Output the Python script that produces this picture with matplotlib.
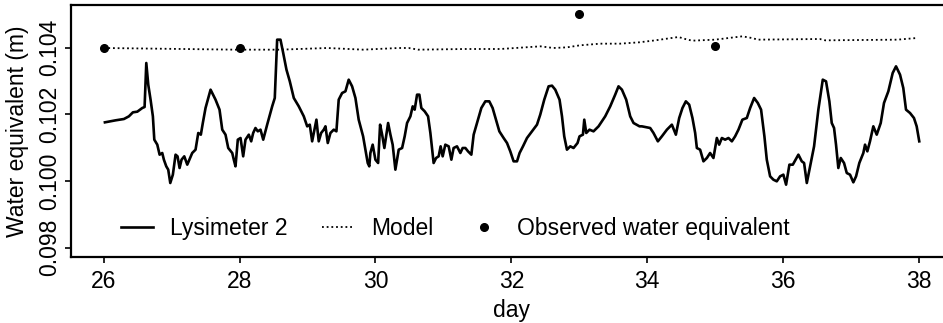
import numpy as np
import matplotlib
matplotlib.use('Agg')
import matplotlib.pyplot as plt

plt.rcParams['font.family'] = ['Liberation Sans', 'DejaVu Sans']

# Lysimeter 2 record (day, water equivalent in m)
lys_day = [26.019, 26.176, 26.299, 26.372, 26.431, 26.496, 26.569, 26.603, 26.628, 26.657,
           26.691, 26.725, 26.746, 26.790, 26.824, 26.863, 26.887, 26.922, 26.951, 26.981,
           27.019, 27.059, 27.088, 27.118, 27.147, 27.187, 27.231, 27.304, 27.353, 27.393,
           27.431, 27.460, 27.500, 27.574, 27.647, 27.706, 27.746, 27.794, 27.834, 27.893,
           27.916, 27.941, 27.975, 28.015, 28.054, 28.088, 28.137, 28.172, 28.201, 28.235,
           28.269, 28.309, 28.349, 28.407, 28.481, 28.519, 28.554, 28.603, 28.643, 28.691,
           28.740, 28.799, 28.872, 28.946, 28.996, 29.034, 29.069, 29.103, 29.132, 29.166,
           29.201, 29.240, 29.265, 29.299, 29.338, 29.387, 29.426, 29.460, 29.510, 29.559,
           29.607, 29.657, 29.706, 29.754, 29.819, 29.887, 29.910, 29.926, 29.960, 30.000,
           30.040, 30.069, 30.099, 30.132, 30.187, 30.221, 30.254, 30.294, 30.343, 30.393,
           30.431, 30.466, 30.515, 30.549, 30.578, 30.613, 30.647, 30.676, 30.725, 30.775,
           30.809, 30.857, 30.893, 30.931, 30.960, 30.990, 31.029, 31.078, 31.118, 31.151,
           31.201, 31.250, 31.284, 31.324, 31.363, 31.412, 31.446, 31.496, 31.559, 31.618,
           31.676, 31.725, 31.775, 31.824, 31.887, 31.937, 31.985, 32.034, 32.084, 32.122,
           32.172, 32.231, 32.304, 32.378, 32.426, 32.485, 32.549, 32.599, 32.647, 32.710,
           32.746, 32.779, 32.819, 32.868, 32.916, 32.975, 33.004, 33.054, 33.074, 33.103,
           33.151, 33.210, 33.284, 33.382, 33.456, 33.529, 33.578, 33.628, 33.691, 33.750,
           33.799, 33.887, 33.921, 34.044, 34.093, 34.157, 34.216, 34.290, 34.363, 34.422,
           34.471, 34.519, 34.569, 34.618, 34.666, 34.706, 34.731, 34.779, 34.828, 34.878,
           34.926, 34.975, 35.025, 35.059, 35.099, 35.147, 35.196, 35.246, 35.294, 35.343,
           35.401, 35.466, 35.515, 35.574, 35.628, 35.676, 35.725, 35.760, 35.809, 35.857,
           35.907, 35.956, 36.004, 36.044, 36.093, 36.143, 36.225, 36.275, 36.309, 36.349,
           36.397, 36.456, 36.519, 36.584, 36.632, 36.681, 36.716, 36.750, 36.779, 36.813,
           36.849, 36.897, 36.937, 36.985, 37.034, 37.074, 37.122, 37.181, 37.206, 37.240,
           37.279, 37.328, 37.378, 37.437, 37.485, 37.549, 37.613, 37.662, 37.721, 37.769,
           37.809, 37.868, 37.926, 37.966, 38.004]
lys_we = [0.10176, 0.10182, 0.10186, 0.10194, 0.10206, 0.10208, 0.10219, 0.10222, 0.10354, 0.10289,
          0.10244, 0.10194, 0.10124, 0.10109, 0.10079, 0.10084, 0.10064, 0.10044, 0.10034, 0.09994,
          0.10019, 0.10079, 0.10074, 0.10039, 0.10064, 0.10074, 0.10049, 0.10084, 0.10094, 0.10144,
          0.10139, 0.10174, 0.10219, 0.10274, 0.10244, 0.10214, 0.10154, 0.10139, 0.10099, 0.10084,
          0.10064, 0.10044, 0.10124, 0.10129, 0.10074, 0.10124, 0.10139, 0.10119, 0.10144, 0.10159,
          0.10149, 0.10154, 0.10124, 0.10169, 0.10224, 0.10249, 0.10424, 0.10424, 0.10384, 0.10334,
          0.10299, 0.10249, 0.10224, 0.10194, 0.10164, 0.10169, 0.10119, 0.10154, 0.10184, 0.10119,
          0.10144, 0.10154, 0.10164, 0.10114, 0.10144, 0.10154, 0.10149, 0.10244, 0.10264, 0.10269,
          0.10304, 0.10284, 0.10249, 0.10184, 0.10134, 0.10054, 0.10044, 0.10084, 0.10109, 0.10064,
          0.10054, 0.10169, 0.10139, 0.10099, 0.10174, 0.10139, 0.10109, 0.10034, 0.10094, 0.10099,
          0.10134, 0.10174, 0.10194, 0.10224, 0.10214, 0.10259, 0.10259, 0.10219, 0.10209, 0.10194,
          0.10144, 0.10054, 0.10069, 0.10074, 0.10104, 0.10074, 0.10109, 0.10104, 0.10064, 0.10099,
          0.10104, 0.10084, 0.10099, 0.10099, 0.10089, 0.10079, 0.10139, 0.10174, 0.10219, 0.10239,
          0.10239, 0.10219, 0.10184, 0.10149, 0.10129, 0.10114, 0.10089, 0.10059, 0.10059, 0.10084,
          0.10104, 0.10129, 0.10149, 0.10169, 0.10199, 0.10244, 0.10284, 0.10286, 0.10274, 0.10244,
          0.10194, 0.10134, 0.10094, 0.10104, 0.10099, 0.10114, 0.10134, 0.10139, 0.10184, 0.10144,
          0.10154, 0.10149, 0.10164, 0.10194, 0.10224, 0.10259, 0.10284, 0.10274, 0.10244, 0.10194,
          0.10174, 0.10164, 0.10164, 0.10159, 0.10144, 0.10119, 0.10134, 0.10154, 0.10169, 0.10139,
          0.10189, 0.10219, 0.10239, 0.10229, 0.10189, 0.10144, 0.10099, 0.10094, 0.10059, 0.10069,
          0.10084, 0.10069, 0.10129, 0.10109, 0.10129, 0.10124, 0.10129, 0.10119, 0.10134, 0.10154,
          0.10184, 0.10189, 0.10219, 0.10249, 0.10234, 0.10214, 0.10134, 0.10064, 0.10014, 0.10004,
          0.09999, 0.10014, 0.10019, 0.09989, 0.10049, 0.10049, 0.10079, 0.10059, 0.10054, 0.09994,
          0.10044, 0.10104, 0.10214, 0.10304, 0.10299, 0.10239, 0.10174, 0.10159, 0.10109, 0.10039,
          0.10069, 0.10054, 0.10024, 0.10019, 0.09996, 0.10014, 0.10054, 0.10084, 0.10109, 0.10089,
          0.10119, 0.10164, 0.10139, 0.10174, 0.10234, 0.10269, 0.10324, 0.10344, 0.10319, 0.10279,
          0.10214, 0.10204, 0.10189, 0.10164, 0.10119]

# model run
model_day = [26.0, 27.94, 28.60, 29.29, 29.82, 30.34, 30.49, 30.63, 31.32, 31.84,
             32.43, 32.62, 32.82, 33.01, 33.31, 33.60, 33.88, 34.12, 34.46, 34.56,
             34.66, 35.00, 35.40, 35.54, 35.63, 36.54, 36.62, 37.68, 37.97]
model_we = [0.10399, 0.10394, 0.10394, 0.10399, 0.10394, 0.10399, 0.10399, 0.10394, 0.10396, 0.10396,
            0.10404, 0.10399, 0.10401, 0.10407, 0.10412, 0.10412, 0.10416, 0.10422, 0.10432, 0.10426,
            0.10421, 0.10424, 0.10434, 0.10429, 0.10424, 0.10426, 0.10422, 0.10424, 0.10429]

# observations
obs_day = [26, 28, 33, 35]
obs_we = [0.1040, 0.1040, 0.1050, 0.10404]

fig = plt.figure(figsize=(9.43, 3.23), dpi=100)
ax = fig.add_axes([71 / 943, 66 / 323, 880.6 / 943, 252 / 323])

ax.plot(lys_day, lys_we, color='black', linewidth=1.9, label='Lysimeter 2')
ax.plot(model_day, model_we, color='black', linewidth=1.3, linestyle=(0, (1, 1.6)), label='Model')
ax.plot(obs_day, obs_we, 'o', color='black', markersize=5.5, linestyle='none',
        label='Observed water equivalent')

ax.set_xlim(25.52, 38.48)
ax.set_ylim(0.09772, 0.10528)
ax.set_xticks([26, 28, 30, 32, 34, 36, 38])
ax.set_yticks([0.098, 0.100, 0.102, 0.104])
ax.set_yticklabels(['0.098', '0.100', '0.102', '0.104'], rotation=90, va='center')
ax.tick_params(direction='out', length=4, width=1.2, labelsize=16.5, pad=3)
ax.tick_params(axis='x', pad=5)
for s in ['top', 'left', 'bottom']:
    ax.spines[s].set_linewidth(1.6)
ax.spines['right'].set_visible(False)

ax.set_xlabel('day', fontsize=16.5, labelpad=5)
ax.set_ylabel('Water equivalent (m)', fontsize=16.5, labelpad=7)

ax.legend(loc='lower left', bbox_to_anchor=(0.037, 0.0), ncol=3, frameon=False,
          fontsize=16.5, handlelength=1.4, handletextpad=0.75, columnspacing=1.5,
          borderaxespad=0.35)

fig.savefig('out.png', dpi=100)
